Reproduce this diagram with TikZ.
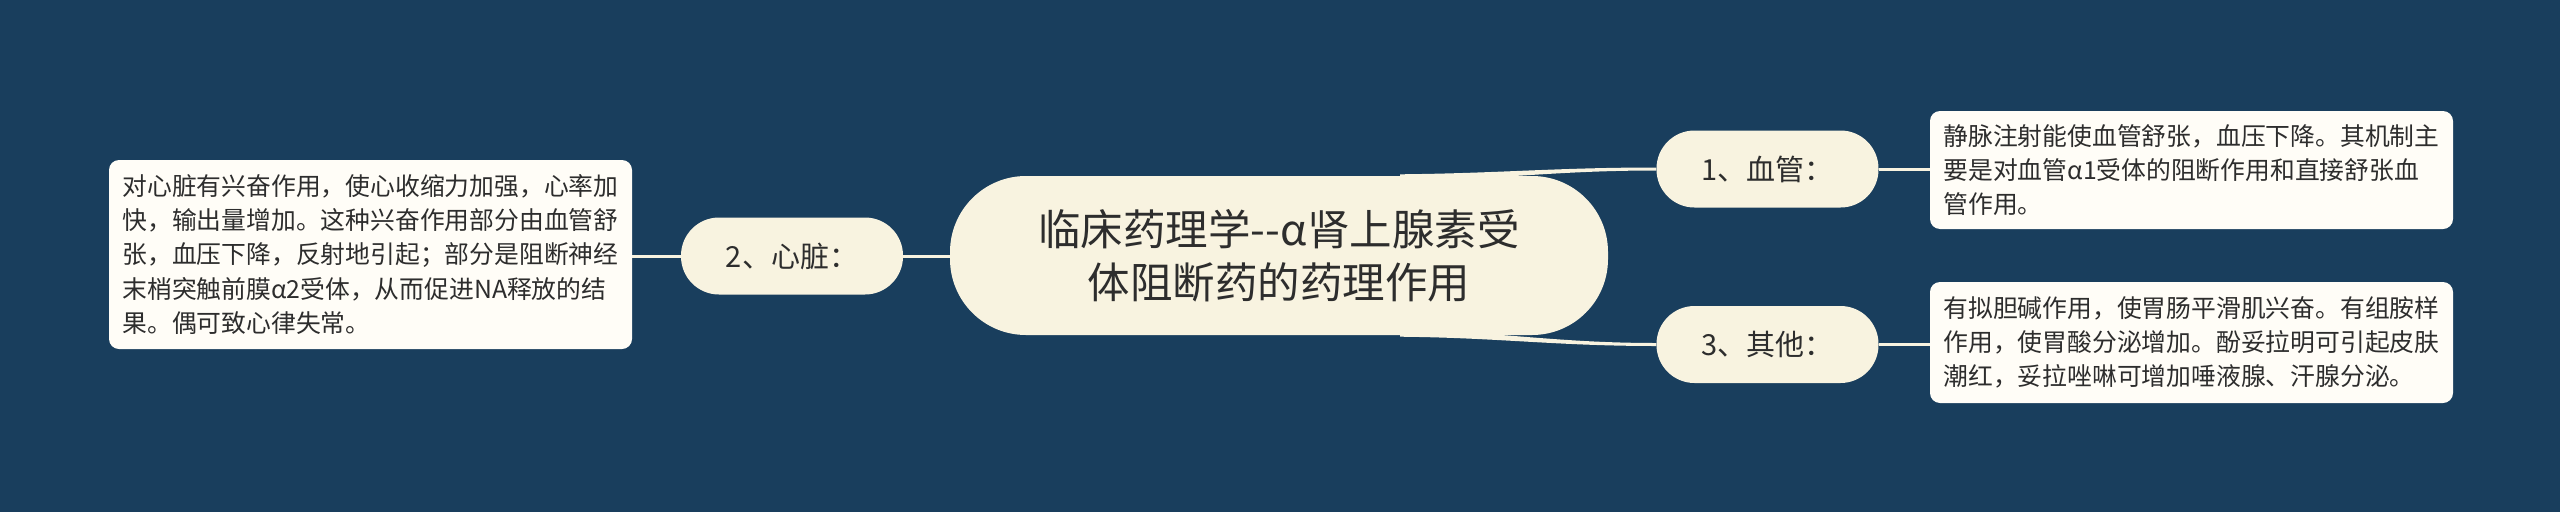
\documentclass[tikz,border=0pt]{standalone}
\usepackage{fontspec}
\newfontfamily\cjk{Noto Sans CJK SC}
\usetikzlibrary{calc}
\definecolor{bgcol}{RGB}{25,62,93}
\definecolor{creamcol}{RGB}{248,243,224}
\definecolor{boxcol}{RGB}{255,253,247}
\definecolor{txtcol}{RGB}{45,45,45}
\definecolor{linkcol}{RGB}{248,243,224}
\pgfdeclarelayer{bglayer}
\pgfsetlayers{bglayer,main}
\tikzset{
  rootnode/.style={fill=creamcol, rounded corners=76pt, minimum width=658pt, minimum height=159pt,
    inner sep=0pt, align=center, text=txtcol, font=\cjk\fontsize{42.5pt}{53pt}\selectfont},
  branchnode/.style={fill=creamcol, rounded corners=38pt, minimum width=222pt, minimum height=77pt,
    inner sep=0pt, text=txtcol, font=\cjk\fontsize{29pt}{34pt}\selectfont},
  leafnode/.style={fill=boxcol, rounded corners=10pt, minimum width=523pt,
    inner sep=0pt, align=left, text=txtcol, font=\cjk\fontsize{24.8pt}{34.3pt}\selectfont},
  straightlink/.style={draw=linkcol, line width=3pt}
}
\begin{document}
\begin{tikzpicture}[x=1pt,y=-1pt]
\useasboundingbox (0,0) rectangle (2560,512);
\begin{pgfonlayer}{bglayer}
\fill[bgcol] (0,0) rectangle (2560,512);
\end{pgfonlayer}

\node[rootnode] (root) at (1279,255.5) {临床药理学-{}-α肾上腺素受\\体阻断药的药理作用};
\node[branchnode] (n2) at (792,256) {2、心脏：};
\node[branchnode] (n1) at (1767.5,169) {1、血管：};
\node[branchnode] (n3) at (1767.5,344.5) {3、其他：};

\node[leafnode, minimum height=189pt] (b2) at (370.5,254.5) {对心脏有兴奋作用，使心收缩力加强，心率加\\快，输出量增加。这种兴奋作用部分由血管舒\\张，血压下降，反射地引起；部分是阻断神经\\末梢突触前膜α2受体，从而促进NA释放的结\\果。偶可致心律失常。};
\node[leafnode, minimum height=118pt] (b1) at (2191.5,170) {静脉注射能使血管舒张，血压下降。其机制主\\要是对血管α1受体的阻断作用和直接舒张血\\管作用。};
\node[leafnode, minimum height=121pt] (b3) at (2191.5,342.5) {有拟胆碱作用，使胃肠平滑肌兴奋。有组胺样\\作用，使胃酸分泌增加。酚妥拉明可引起皮肤\\潮红，妥拉唑啉可增加唾液腺、汗腺分泌。};

\coordinate (s1) at ($(root.north)+(121,2)$);
\coordinate (s3) at ($(root.south)+(121,-2)$);
\begin{pgfonlayer}{bglayer}
\fill[linkcol] ($(s1)+(0,-3.5)$) .. controls +(100,-1) and +(-100,0) .. ($(n1.west)+(0,-1.5)$)
  -- ($(n1.west)+(0,1.5)$) .. controls +(-100,0) and +(100,-2) .. ($(s1)+(0,3.5)$) -- cycle;
\fill[linkcol] ($(s3)+(0,3.5)$) .. controls +(100,1) and +(-100,0) .. ($(n3.west)+(0,1.5)$)
  -- ($(n3.west)+(0,-1.5)$) .. controls +(-100,0) and +(100,2) .. ($(s3)+(0,-3.5)$) -- cycle;
\draw[straightlink] (root.west |- n2.east) -- (n2.east);
\draw[straightlink] (n2.west) -- (b2.east |- n2.west);
\draw[straightlink] (n1.east) -- (b1.west |- n1.east);
\draw[straightlink] (n3.east) -- (b3.west |- n3.east);
\end{pgfonlayer}
\end{tikzpicture}
\end{document}
